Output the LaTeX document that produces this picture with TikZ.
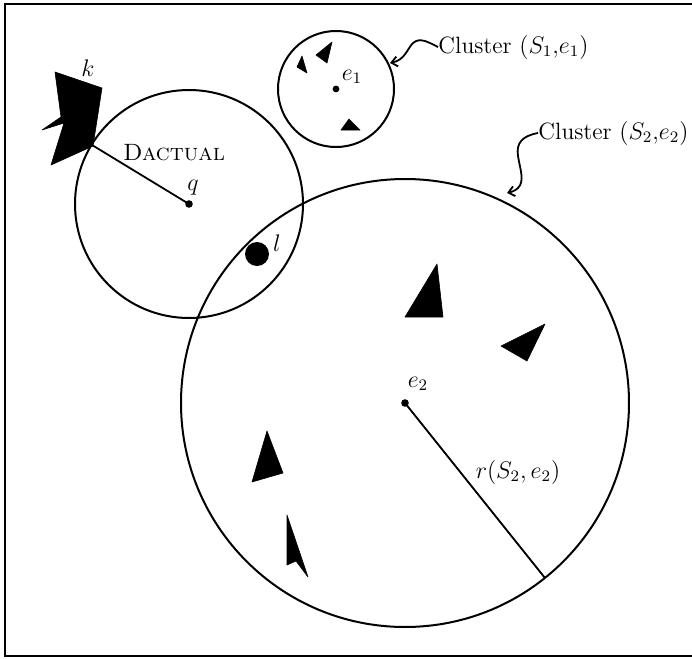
\documentclass[tikz,border=0pt]{standalone}
\usetikzlibrary{arrows.meta}
\begin{document}
\begin{tikzpicture}[x=0.5pt,y=-0.5pt,
  lab/.style={inner sep=0pt,font=\fontsize{11.8}{14}\selectfont},
  ring/.style={draw,line width=1pt},
  blob/.style={fill=black,draw=black,line width=0.3pt,line join=round},
  curl/.style={line width=0.9pt,-{Straight Barb[length=3pt,width=5pt]}}]
\useasboundingbox (0,0) rectangle (692,659);
% frame
\draw[line width=1pt] (692,4) -- (5,4) -- (5,656) -- (692,656);
% centres
\coordinate (q) at (189,204);
\coordinate (e1) at (336,89);
\coordinate (e2) at (405,403);
\coordinate (kp) at (92,145);
\coordinate (rend) at (545,578);
\coordinate (s1) at (390,63);
\coordinate (s2) at (507,193);
% circles
\draw[ring] (q) circle[radius=57pt];
\draw[ring] (e1) circle[radius=29pt];
\draw[ring] (e2) circle[radius=112pt];
% radii
\draw[line width=0.9pt] (q) -- (kp);
\draw[line width=0.9pt] (e2) -- (rend);
% dots
\fill (q) circle[radius=1.9pt];
\fill (e1) circle[radius=1.7pt];
\fill (e2) circle[radius=1.9pt];
\fill (257,254) circle[radius=6pt];
% k shape
\filldraw[blob] (55,72) -- (102,88) -- (93,146) -- (51,165) -- (64,123) -- (42,130) -- (61,117) -- cycle;
% triangles in cluster 1
\filldraw[blob] (302,56) -- (297,67) -- (307,73) -- cycle;
\filldraw[blob] (332,42) -- (316,55) -- (327,63) -- cycle;
\filldraw[blob] (349,119) -- (341,130) -- (360,130) -- cycle;
% triangles in cluster 2
\filldraw[blob] (437,264) -- (405,317) -- (443,317) -- cycle;
\filldraw[blob] (545,324) -- (501,346) -- (527,361) -- cycle;
\filldraw[blob] (267,431) -- (252,482) -- (283,473) -- cycle;
\filldraw[blob] (287,515) -- (287,565) -- (296,561) -- (308,577) -- cycle;
% labels
\node[lab] (k) at (88,68) {$k$};
\node[lab] (dact) at (174,153) {\textsc{Dactual}};
\node[lab] (ql) at (193,188) {$q$};
\node[lab] (e1l) at (352,77) {$e_1$};
\node[lab] (e2l) at (418,384) {$e_2$};
\node[lab] (ll) at (277,243) {$l$};
\node[lab] (rl) at (518,472) {$r(S_2,e_2)$};
\node[lab,anchor=west] (c1) at (438,47) {Cluster $(S_1{,}e_1)$};
\node[lab,anchor=west] (c2) at (538,133) {Cluster $(S_2{,}e_2)$};
% curly connectors
\draw[curl] (c1.west) .. controls (428,42) and (420,37) .. (413,43)
  .. controls (407,49) and (405,60) .. (s1);
\draw[curl] (c2.west) .. controls (522,136) and (516,143) .. (518,156)
  .. controls (520,169) and (525,181) .. (518,188)
  .. controls (515,191) and (511,192) .. (s2);
\end{tikzpicture}
\end{document}
